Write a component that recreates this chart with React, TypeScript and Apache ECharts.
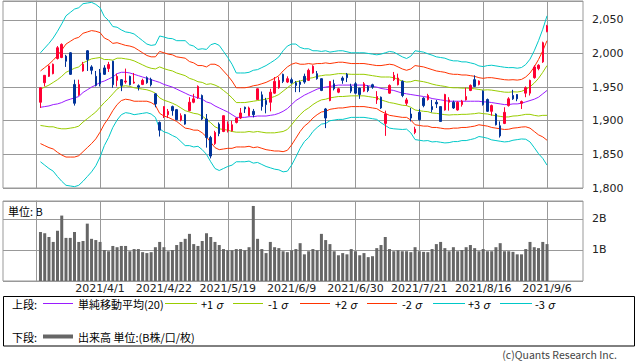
import React, { useEffect, useRef } from 'react';
import * as echarts from 'echarts';

const TICK_LABELS = ['2021/4/1', '2021/4/22', '2021/5/19', '2021/6/9', '2021/6/30', '2021/7/21', '2021/8/16', '2021/9/6'];
const TICK_FIRST_INDEX = 14;
const TICK_EVERY = 15;

const OPEN = [
  1927.5, 1956.5, 1966, 1970, 1992.5, 1994, 1996, 2001, 1954, 1938.5,
  1974, 2004, 1980, 1966, 1971, 1978.5, 1977.5, 1988.5, 1960, 1961,
  1957.5, 1966, 1956, 1952, 1954, 1964, 1961.5, 1940, 1897.5, 1907.5,
  1909, 1921, 1916.5, 1901, 1909, 1915, 1927.5, 1934, 1937.5, 1902.5,
  1875, 1866, 1895, 1884, 1885, 1885, 1897.5, 1904, 1920, 1907.5,
  1914, 1931.5, 1938.5, 1930, 1927.5, 1941, 1949, 1969, 1957.5, 1961,
  1956.5, 1957.5, 1966, 1960, 1971, 1970, 1962.5, 1917.5, 1930, 1955,
  1942.5, 1963.5, 1969, 1951, 1955, 1948.5, 1944, 1951, 1953.5, 1931,
  1935, 1896, 1941, 1961, 1953.5, 1958.5, 1926, 1910, 1882.5, 1912.5,
  1933.5, 1931.5, 1921, 1927.5, 1921, 1916, 1927.5, 1927.5, 1916, 1924,
  1931, 1945, 1961, 1954, 1944, 1931.5, 1914, 1910, 1892.5, 1896,
  1922.5, 1937.5, 1939, 1926, 1941, 1941, 1964, 1977.5, 1987.5, 2032.5,
];
const CLOSE = [
  1949, 1967.5, 1981.5, 1984, 2008.5, 2013.5, 1988.5, 1969, 1926, 1954,
  1984, 1991, 1975, 1952.5, 1955, 1969, 1983.5, 1953.5, 1966, 1952.5,
  1959, 1953.5, 1957.5, 1950, 1960, 1956.5, 1953.5, 1925, 1886, 1921,
  1914, 1915, 1901.5, 1907.5, 1895, 1927.5, 1932.5, 1951, 1902.5, 1875,
  1847.5, 1882.5, 1881, 1907.5, 1895, 1894, 1904, 1911.5, 1917.5, 1919,
  1909, 1947.5, 1921, 1924, 1942.5, 1958.5, 1960, 1958.5, 1962.5, 1956.5,
  1952.5, 1954, 1957.5, 1975, 1981, 1962.5, 1945, 1904, 1958.5, 1947.5,
  1947.5, 1960, 1964, 1944, 1941, 1939, 1955, 1945, 1950, 1936,
  1919, 1910, 1952.5, 1967.5, 1963.5, 1937.5, 1931, 1904, 1887.5, 1901.5,
  1922.5, 1937.5, 1916.5, 1925, 1899, 1939, 1931, 1919, 1927.5, 1929,
  1936, 1952.5, 1951, 1959, 1924, 1914, 1922.5, 1894, 1877.5, 1912.5,
  1932.5, 1932.5, 1932.5, 1928.5, 1949, 1960, 1980, 1982.5, 2016, 2041,
];
const LOW = [
  1919, 1951, 1965, 1969, 1991, 1993, 1980, 1968, 1922.5, 1937,
  1973, 1974, 1969, 1951, 1951, 1968, 1972.5, 1949, 1951, 1944,
  1955, 1952.5, 1955, 1945, 1953, 1955, 1951, 1920, 1876.5, 1904,
  1904, 1907.5, 1901, 1899, 1894, 1914, 1926, 1932.5, 1901, 1860,
  1844, 1864, 1877, 1883, 1882.5, 1884, 1896, 1902.5, 1911.5, 1907.5,
  1905, 1931, 1915, 1911, 1914, 1940, 1947.5, 1956, 1956, 1955,
  1942.5, 1942.5, 1955, 1959, 1970, 1961, 1944, 1889, 1929, 1945,
  1941, 1955, 1957.5, 1941, 1940, 1932.5, 1942.5, 1942.5, 1947.5, 1925,
  1917.5, 1877.5, 1940, 1959, 1952.5, 1935, 1922.5, 1899, 1880, 1900,
  1920, 1930, 1912.5, 1919, 1899, 1915, 1915, 1917.5, 1915, 1921,
  1930, 1944, 1950, 1952.5, 1922.5, 1913, 1907.5, 1893, 1875, 1895,
  1921, 1931, 1929, 1917.5, 1935, 1937.5, 1962.5, 1975, 1986, 2031.5,
];
const HIGH = [
  1950, 1968, 1982, 1985, 2011, 2015, 1998, 2002, 1961, 1961,
  1987.5, 2005, 1982.5, 1974, 1977, 1982.5, 1987.5, 1989, 1970, 1962,
  1977.5, 1967, 1971, 1954, 1962.5, 1966, 1964, 1941, 1899, 1921.5,
  1917.5, 1922.5, 1917.5, 1911, 1910, 1935, 1940, 1952.5, 1939, 1910,
  1877.5, 1885, 1897.5, 1908, 1899, 1900, 1904.5, 1919, 1921, 1921,
  1917.5, 1948, 1943.5, 1934, 1947.5, 1965, 1965, 1970, 1966, 1964,
  1959, 1960, 1970, 1977.5, 1982.5, 1974, 1963, 1919, 1959, 1961,
  1949, 1966, 1971, 1955, 1957.5, 1949, 1957.5, 1952.5, 1955, 1944,
  1936, 1915, 1954, 1972.5, 1970, 1960, 1934, 1919, 1891, 1917.5,
  1935, 1940, 1931, 1931, 1921.5, 1940, 1935, 1930, 1929, 1931,
  1949, 1954, 1967.5, 1960, 1945, 1933, 1924, 1911, 1899, 1920,
  1935, 1946, 1939.5, 1930, 1951, 1961, 1982.5, 1984, 2017.5, 2042.5,
];
const MA20 = [
  1920, 1921, 1922, 1924, 1925, 1927, 1930, 1932, 1934, 1936,
  1942, 1946, 1950, 1953, 1957, 1959, 1962, 1965, 1970, 1972,
  1972, 1971, 1969, 1967, 1965, 1963, 1961, 1959, 1957, 1954,
  1952, 1950, 1947, 1944, 1941, 1938, 1936, 1934, 1932, 1928,
  1926, 1922, 1919, 1916, 1913, 1909, 1905, 1905, 1905, 1906,
  1906, 1907, 1907, 1907, 1908, 1909, 1911, 1914, 1918, 1924,
  1930, 1934, 1938, 1941, 1944, 1947, 1949, 1950, 1951, 1952,
  1953, 1953, 1953, 1953, 1953, 1953, 1953, 1952, 1951, 1950,
  1948, 1947, 1946, 1945, 1943, 1941, 1940, 1939, 1938, 1937,
  1936, 1935, 1933, 1932, 1931, 1930, 1929, 1929, 1929, 1929,
  1929, 1929, 1929, 1929, 1928, 1928, 1927, 1926, 1925, 1924,
  1924, 1925, 1925, 1926, 1928, 1930, 1932, 1935, 1940, 1945,
];
const SIGMA = [
  27, 29, 31, 33, 36, 39, 42, 43, 44, 44,
  44, 43, 42, 40, 37, 32, 29, 25, 23, 21,
  20, 20, 20, 19, 18, 17, 17, 18, 23, 23.5,
  23.5, 24, 24, 25, 26, 25, 25, 24, 25, 26,
  29, 31, 31, 29, 27, 25, 22, 22, 22, 22,
  23, 23, 24, 25, 26, 27, 28, 30, 31, 30,
  28, 25, 23, 22, 20, 19, 18, 18, 17, 17,
  17, 17, 16.5, 16, 16, 16, 16, 16, 16, 16,
  17, 18, 19, 19, 18.5, 18, 17.5, 19, 22, 22,
  22, 21.5, 21.5, 21, 21, 21, 20.5, 20, 20, 19.5,
  19.5, 19, 18.5, 17.5, 17.5, 18, 18.5, 18.5, 18.5, 18.5,
  18.3, 18, 17.7, 17.7, 18.5, 20.5, 24, 28, 32, 37,
];
const VOLUME = [
  1.58, 1.54, 1.42, 1.26, 1.62, 2.11, 1.39, 1.39, 1.58, 1.26,
  1.29, 1.85, 1.36, 1.32, 1.26, 1.0, 0.96, 1.13, 1.09, 1.13,
  1.13, 0.96, 1.03, 1.03, 0.93, 0.9, 0.93, 1.09, 1.26, 1.09,
  0.96, 1.0, 1.16, 1.26, 1.36, 1.52, 1.19, 1.13, 1.29, 1.54,
  1.42, 1.26, 1.16, 1.03, 0.99, 0.99, 1.03, 1.03, 0.99, 1.09,
  2.42, 1.36, 1.03, 0.9, 1.26, 1.09, 1.06, 0.96, 0.93, 0.99,
  1.03, 1.22, 0.86, 0.96, 1.03, 0.99, 1.52, 1.32, 1.19, 0.96,
  0.83, 0.9, 0.86, 1.03, 0.96, 0.83, 0.9, 0.77, 0.8, 1.06,
  1.16, 1.42, 1.03, 0.96, 0.99, 0.96, 0.96, 0.93, 1.09, 0.96,
  0.94, 0.93, 1.03, 1.19, 1.26, 1.06, 0.96, 1.09, 0.96, 1.0,
  1.09, 1.16, 1.06, 0.96, 1.03, 0.96, 0.96, 1.09, 1.22, 0.96,
  0.96, 0.94, 0.86, 0.86, 1.03, 1.26, 1.09, 1.06, 1.26, 1.19,
];

const FONT = '"Noto Sans CJK JP", "Noto Sans", sans-serif';
const NUM_FONT = '"DejaVu Sans", sans-serif';
const C_MA = '#9a1cff';
const C_S1 = '#99cc00';
const C_S2 = '#ff3300';
const C_S3 = '#00c8c8';
const GRID_C = '#999999';

export default function App() {
  const ref = useRef<HTMLDivElement>(null);
  useEffect(() => {
    document.body.style.margin = '0';
    const chart = echarts.init(ref.current!, null, { renderer: 'svg' });

    const xOf = (i: number) => i + 1;
    const XMIN = xOf(-8.8);
    const XMAX = xOf(127.45);
    const tickX = TICK_LABELS.map((_, k) => xOf(TICK_FIRST_INDEX + k * TICK_EVERY));
    const labelMap: Record<number, string> = {};
    tickX.forEach((x, k) => (labelMap[x] = TICK_LABELS[k]));

    const band = (k: number) => MA20.map((m, i) => [xOf(i), +(m + k * SIGMA[i]).toFixed(2)]);
    const lineSeries = (name: string, data: number[][], color: string, extra: any = {}) => ({
      name, type: 'line', xAxisIndex: 0, yAxisIndex: 0, data, symbol: 'none', z: 2,
      lineStyle: { color, width: 1 }, silent: true, ...extra,
    });
    const vLines = {
      z: 1, silent: true, symbol: ['none', 'none'], label: { show: false },
      lineStyle: { color: GRID_C, width: 1, type: 'solid' },
      emphasis: { disabled: true },
      data: tickX.map((x) => ({ xAxis: x })),
    };

    const txt = (x: number, y: number, text: string, extra: any = {}) => ({
      type: 'text', x, y, silent: true,
      style: {
        text, fill: '#000', font: `11px ${FONT}`,
        verticalAlign: 'middle', textVerticalAlign: 'middle', ...extra,
      },
    });
    const sigmaTxt = (x: number, y: number, pre: string) => ({
      type: 'text', x, y, silent: true,
      style: {
        text: `${pre} {s|σ}`, fill: '#000', font: `11px ${FONT}`,
        verticalAlign: 'middle', textVerticalAlign: 'middle',
        rich: { s: { fontStyle: 'italic', fontSize: 11, fontFamily: FONT, fill: '#000' } },
      },
    });
    const seg = (x1: number, x2: number, y: number, color: string, w = 1) => ({
      type: 'line', silent: true, shape: { x1, y1: y, x2, y2: y }, style: { stroke: color, lineWidth: w },
    });
    const R1 = 303.5;
    const R2 = 336.5;

    const option: any = {
      animation: false,
      textStyle: { fontFamily: FONT },
      grid: [
        { left: 3, top: 1, width: 580, height: 187, show: true, borderColor: GRID_C, borderWidth: 1 },
        { left: 3, top: 201, width: 580, height: 80, show: true, borderColor: GRID_C, borderWidth: 1 },
      ],
      xAxis: [
        { type: 'value', gridIndex: 0, min: XMIN, max: XMAX, show: false },
        {
          type: 'value', gridIndex: 1, min: XMIN, max: XMAX,
          axisLine: { show: false }, axisTick: { show: false }, splitLine: { show: false },
          axisLabel: {
            customValues: tickX, formatter: (v: number) => labelMap[v] ?? '',
            fontSize: 11, fontFamily: NUM_FONT, color: '#222', margin: 2,
          },
        },
      ],
      yAxis: [
        {
          type: 'value', gridIndex: 0, position: 'right', min: 1800, max: 2078, interval: 50,
          axisLine: { show: true, lineStyle: { color: GRID_C } },
          axisTick: { show: true, length: 4, lineStyle: { color: GRID_C } },
          splitLine: { show: true, lineStyle: { color: GRID_C, width: 1 } },
          axisLabel: {
            showMaxLabel: false, margin: 9, fontSize: 11, fontFamily: NUM_FONT, color: '#222',
            formatter: (v: number) => (v % 50 === 0 ? v.toLocaleString('en-US') : ''),
          },
        },
        {
          type: 'value', gridIndex: 1, position: 'right', min: 0, max: 2.58, interval: 1,
          axisLine: { show: true, lineStyle: { color: GRID_C } },
          axisTick: { show: true, length: 4, lineStyle: { color: GRID_C } },
          splitLine: { show: true, lineStyle: { color: GRID_C, width: 1 } },
          axisLabel: {
            showMaxLabel: false, margin: 9, fontSize: 11, fontFamily: NUM_FONT, color: '#222',
            formatter: (v: number) => (v > 0 && Number.isInteger(v) ? `${v}B` : ''),
          },
        },
      ],
      series: [
        lineSeries('-3σ', band(-3), C_S3),
        lineSeries('+3σ', band(3), C_S3),
        lineSeries('-2σ', band(-2), C_S2),
        lineSeries('+2σ', band(2), C_S2),
        lineSeries('-1σ', band(-1), C_S1),
        lineSeries('+1σ', band(1), C_S1),
        lineSeries('MA20', MA20.map((m, i) => [xOf(i), m]), C_MA, { markLine: vLines }),
        {
          name: 'price', type: 'candlestick', xAxisIndex: 0, yAxisIndex: 0, z: 3,
          barWidth: 2, silent: true,
          data: OPEN.map((o, i) => [xOf(i), o, CLOSE[i], LOW[i], HIGH[i]]),
          itemStyle: {
            color: '#ff0033', color0: '#003399', borderColor: '#ff0033', borderColor0: '#003399', borderWidth: 1,
          },
        },
        {
          name: 'volume', type: 'bar', xAxisIndex: 1, yAxisIndex: 1, z: 2, barWidth: 3, silent: true,
          data: VOLUME.map((v, i) => [xOf(i), v]),
          itemStyle: { color: '#666666' },
          markLine: vLines,
        },
      ],
      graphic: [
        txt(8, 210.5, '単位: B'),
        { type: 'rect', silent: true, shape: { x: 3.5, y: 296.5, width: 631, height: 49.5 }, style: { fill: 'none', stroke: '#000', lineWidth: 1 } },
        txt(12, R1, '上段:'),
        seg(43, 73, R1, C_MA),
        txt(78, R1, '単純移動平均(20)'),
        seg(165, 197, R1, C_S1),
        sigmaTxt(201, R1, '+1'),
        seg(233, 263, R1, C_S1),
        sigmaTxt(268, R1, '-1'),
        seg(300, 330, R1, C_S2),
        sigmaTxt(335, R1, '+2'),
        seg(367, 397, R1, C_S2),
        sigmaTxt(402, R1, '-2'),
        seg(433, 465, R1, C_S3),
        sigmaTxt(468, R1, '+3'),
        seg(500, 532, R1, C_S3),
        sigmaTxt(535, R1, '-3'),
        txt(12, R2, '下段:'),
        seg(43, 73, R2, '#666666', 4),
        txt(78, R2, '出来高 単位:(B株/口/枚)'),
        {
          type: 'text', x: 617, y: 354.5, silent: true,
          style: {
            text: '(c)Quants Research Inc.', fill: '#444', font: `10.5px ${FONT}`,
            align: 'right', textAlign: 'right', verticalAlign: 'middle', textVerticalAlign: 'middle',
          },
        },
      ],
    };
    chart.setOption(option);
    return () => chart.dispose();
  }, []);
  return <div ref={ref} style={{ width: 638, height: 362 }} />;
}
